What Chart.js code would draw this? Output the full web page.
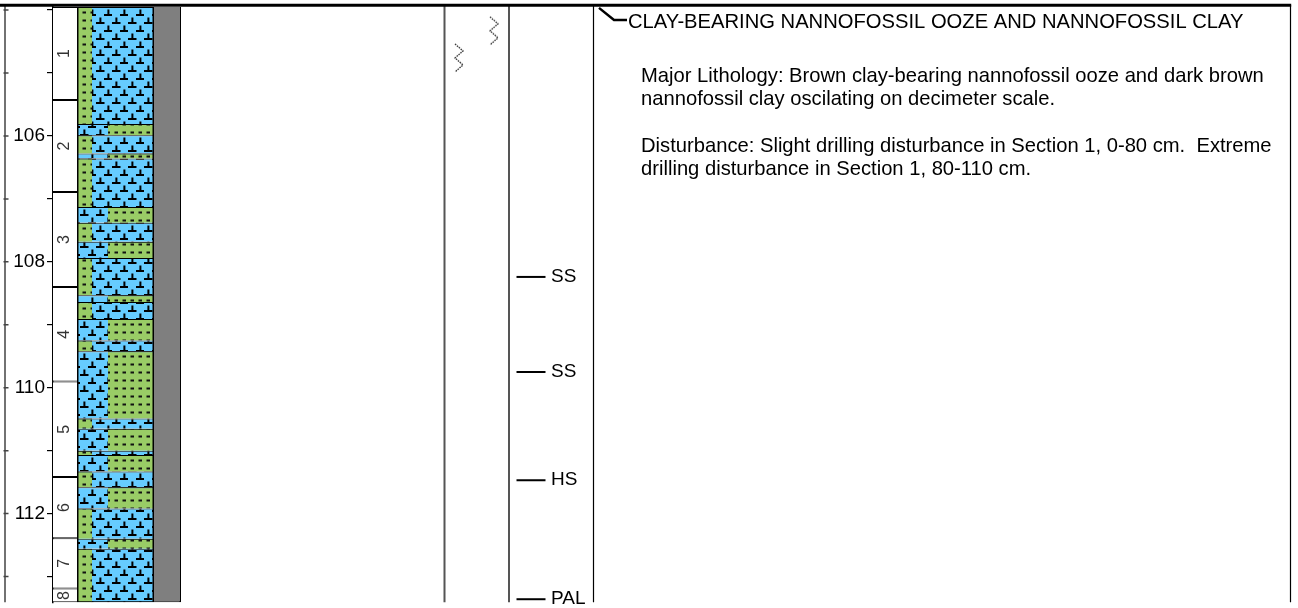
<!DOCTYPE html>
<html lang="en">
<head>
<meta charset="UTF-8">
<title>Core description</title>
<script src="https://cdn.jsdelivr.net/npm/chart.js"></script>
<style>
    html, body { margin: 0; padding: 0; background: #fff; }
    canvas { display: block; }
</style>
</head>
<body>
<canvas id="core" width="1298" height="608"></canvas>
<script>
// depth axis (m)
const depthRange = [103.92, 113.42];
const depthLabels = [106, 108, 110, 112];

// core sections, tops plus core bottom
const sectionNames = ['1', '2', '3', '4', '5', '6', '7', '8'];
const sectionTops = [103.95, 105.43, 106.89, 108.40, 109.90, 111.42, 112.39, 113.19, 113.41];

// lithology: O = clay-bearing nannofossil ooze, C = nannofossil clay
const layerTops = [103.95, 105.81, 105.99, 106.28, 106.36, 107.13, 107.38, 107.68, 107.94, 108.53,
                   108.64, 108.91, 109.25, 109.42, 110.49, 110.65, 111.00, 111.07, 111.33, 111.58,
                   111.92, 112.40, 112.56, 113.41];
const layerTypes = ['O', 'C', 'O', 'C', 'O', 'C', 'O', 'C', 'O', 'C', 'O', 'C',
                    'O', 'C', 'O', 'C', 'O', 'C', 'O', 'C', 'O', 'C', 'O'];

// drilling disturbance symbols
const disturbDepths = [104.33, 104.76];

// shipboard samples
const sampleDepths = [108.24, 109.75, 111.47, 113.36];
const sampleCodes = ['SS', 'SS', 'HS', 'PAL'];

// unit description
const unitTop = 103.95;
const unitTitle = 'CLAY-BEARING NANNOFOSSIL OOZE AND NANNOFOSSIL CLAY';
const unitText = [
    'Major Lithology: Brown clay-bearing nannofossil ooze and dark brown',
    'nannofossil clay oscilating on decimeter scale.',
    '',
    'Disturbance: Slight drilling disturbance in Section 1, 0-80 cm.  Extreme',
    'drilling disturbance in Section 1, 80-110 cm.'
];

// column layout (px)
const COL = {
    rule: 5, section: [53, 77], lith: [77, 154], oozeClay: 92, clayEdge: 108, recovery: [154, 181],
    dividers: [444.5, 509, 593.5, 1290.5], disturb: [494, 459], sample: 531
};
const FONT = "'Liberation Sans', Arial, Helvetica, sans-serif";

const canvas = document.getElementById('core');
const ctx = canvas.getContext('2d');
const mid = (a) => (a[0] + a[1]) / 2;

function oozePattern() {
    const t = document.createElement('canvas');
    t.width = 16; t.height = 16;
    const g = t.getContext('2d');
    g.fillStyle = '#66CCFF';
    g.fillRect(0, 0, 16, 16);
    g.fillStyle = '#000';
    [[4, 6], [12, 14]].forEach(([x, y]) => {
        g.fillRect(x - 4, y, 8.5, 2);
        g.fillRect(x - 0.6, y - 4.5, 2, 4.5);
    });
    return ctx.createPattern(t, 'repeat');
}

function clayPattern() {
    const t = document.createElement('canvas');
    t.width = 8; t.height = 8;
    const g = t.getContext('2d');
    g.fillStyle = '#99CC66';
    g.fillRect(0, 0, 8, 8);
    g.fillStyle = '#111';
    g.fillRect(2.5, 3.5, 3.5, 2);
    return ctx.createPattern(t, 'repeat');
}

function zigzagIcon() {
    const t = document.createElement('canvas');
    t.width = 10; t.height = 30;
    const g = t.getContext('2d');
    g.strokeStyle = '#333';
    g.lineWidth = 1.3;
    g.setLineDash([1.6, 0.9]);
    g.beginPath();
    g.moveTo(1, 1); g.lineTo(9, 8); g.lineTo(1, 15); g.lineTo(9, 22); g.lineTo(1, 29);
    g.stroke();
    return t;
}

const ooze = oozePattern();
const clay = clayPattern();

const layers = layerTypes.map((t, i) => ({ type: t, y: [layerTops[i], layerTops[i + 1]] }));
const bottom = sectionTops[sectionTops.length - 1];

const barBase = { type: 'bar', grouped: false, borderSkipped: false, borderColor: '#000', inflateAmount: 0 };

const coreFrame = {
    id: 'coreFrame',
    afterDatasetsDraw(chart) {
        const c = chart.ctx;
        c.save();
        // section numbers, rotated
        c.fillStyle = '#333';
        c.font = '16px ' + FONT;
        c.textAlign = 'center';
        c.textBaseline = 'middle';
        chart.getDatasetMeta(0).data.forEach((el, i) => {
            const p = el.getCenterPoint();
            c.save();
            c.translate(p.x, p.y);
            c.rotate(-Math.PI / 2);
            c.fillText(sectionNames[i], 0, 0);
            c.restore();
        });
        // sample codes
        c.fillStyle = '#000';
        c.font = '19px ' + FONT;
        c.textAlign = 'left';
        chart.getDatasetMeta(6).data.forEach((el, i) => {
            c.fillText(sampleCodes[i], el.x + 20, el.y);
        });
        c.restore();
    },
    afterDraw(chart) {
        const c = chart.ctx;
        const y = chart.scales.y;
        const top = chart.chartArea.top;
        const bot = y.getPixelForValue(bottom);
        c.save();

        // outer depth rule with ticks
        c.strokeStyle = '#444';
        c.lineWidth = 1.5;
        c.beginPath();
        c.moveTo(COL.rule, top); c.lineTo(COL.rule, bot);
        y.ticks.forEach((t, i) => {
            const py = y.getPixelForTick(i);
            c.moveTo(COL.rule - 1.5, py); c.lineTo(COL.rule + 3.5, py);
        });
        c.stroke();

        // column dividers
        COL.dividers.forEach((x, i) => {
            c.strokeStyle = i < 2 ? '#555' : '#000';
            c.lineWidth = i < 2 ? 2 : 1.2;
            c.beginPath();
            c.moveTo(x, top); c.lineTo(x, bot);
            c.stroke();
        });

        // top rule
        c.strokeStyle = '#000';
        c.lineWidth = 3;
        c.beginPath();
        c.moveTo(0, 5.2); c.lineTo(COL.dividers[3] + 0.7, 5.2);
        c.stroke();

        // unit leader and description
        const uy = y.getPixelForValue(unitTop);
        c.lineWidth = 2.5;
        c.beginPath();
        c.moveTo(599, uy + 1); c.lineTo(614, 20); c.lineTo(627, 20);
        c.stroke();

        c.fillStyle = '#000';
        c.font = '20.2px ' + FONT;
        c.textAlign = 'left';
        c.textBaseline = 'alphabetic';
        c.fillText(unitTitle, 628, 28);
        unitText.forEach((line, i) => {
            if (line) c.fillText(line, 641, 82 + i * 23.3);
        });
        c.restore();
    }
};

new Chart(ctx, {
    type: 'bar',
    data: {
        datasets: [
            { ...barBase, label: 'Section', order: 5, barThickness: 24, backgroundColor: '#fff',
              borderWidth: { top: 1, bottom: 1, left: 0, right: 0 },
              data: sectionNames.map((n, i) => ({ x: mid(COL.section), y: [sectionTops[i], sectionTops[i + 1]] })) },
            { ...barBase, label: 'Ooze', order: 4, barThickness: COL.lith[1] - COL.lith[0], backgroundColor: ooze,
              borderWidth: { top: 1, bottom: 0, left: 0, right: 0 },
              data: layers.map(l => ({ x: mid(COL.lith), y: l.y })) },
            { ...barBase, label: 'Clay strip', order: 3, barThickness: COL.oozeClay - COL.lith[0], backgroundColor: clay,
              borderWidth: { top: 1, bottom: 0, left: 0, right: 0 },
              data: layers.filter(l => l.type === 'O').map(l => ({ x: mid([COL.lith[0], COL.oozeClay]), y: l.y })) },
            { ...barBase, label: 'Clay', order: 3, barThickness: COL.lith[1] - COL.clayEdge, backgroundColor: clay,
              borderWidth: { top: 1, bottom: 0, left: 0, right: 0 },
              data: layers.filter(l => l.type === 'C').map(l => ({ x: mid([COL.clayEdge, COL.lith[1]]), y: l.y })) },
            { ...barBase, label: 'Outline', order: 2, barThickness: COL.lith[1] - COL.lith[0], backgroundColor: 'rgba(0,0,0,0)',
              borderWidth: { top: 0, bottom: 1.2, left: 1.5, right: 1.5 },
              data: [{ x: mid(COL.lith), y: [layerTops[0], bottom] }] },
            { ...barBase, label: 'Recovery', order: 2, barThickness: COL.recovery[1] - COL.recovery[0], backgroundColor: '#7F7F7F',
              borderWidth: { top: 0, bottom: 1.2, left: 0, right: 1.5 },
              data: [{ x: mid(COL.recovery), y: [sectionTops[0], bottom] }] },
            { type: 'scatter', label: 'Samples', order: 1, pointStyle: 'line', pointRadius: 14.5,
              borderColor: '#000', borderWidth: 2,
              data: sampleDepths.map(d => ({ x: COL.sample, y: d })) },
            { type: 'scatter', label: 'Disturbance', order: 1, pointStyle: zigzagIcon(),
              data: disturbDepths.map((d, i) => ({ x: COL.disturb[i], y: d })) }
        ]
    },
    options: {
        responsive: false,
        animation: false,
        events: [],
        layout: { autoPadding: false, padding: { top: 5, bottom: 5, left: 0, right: 0 } },
        plugins: { legend: { display: false }, tooltip: { enabled: false } },
        scales: {
            x: { type: 'linear', display: false, min: COL.section[0], max: 1298, offset: false },
            y: {
                type: 'linear', position: 'left', reverse: true,
                min: depthRange[0], max: depthRange[1],
                ticks: {
                    stepSize: 1, includeBounds: false, autoSkip: false, padding: 2, color: '#000',
                    font: { family: FONT, size: 19 },
                    callback: v => depthLabels.includes(v) ? String(v) : ''
                },
                grid: { drawOnChartArea: false, drawTicks: true, tickLength: 6, color: '#000', lineWidth: 1.2 },
                border: { display: true, color: '#000', width: 1.5 },
                afterFit: s => { s.width = COL.section[0]; s.paddingTop = 0; s.paddingBottom = 0; }
            }
        }
    },
    plugins: [coreFrame]
});
</script>
</body>
</html>
